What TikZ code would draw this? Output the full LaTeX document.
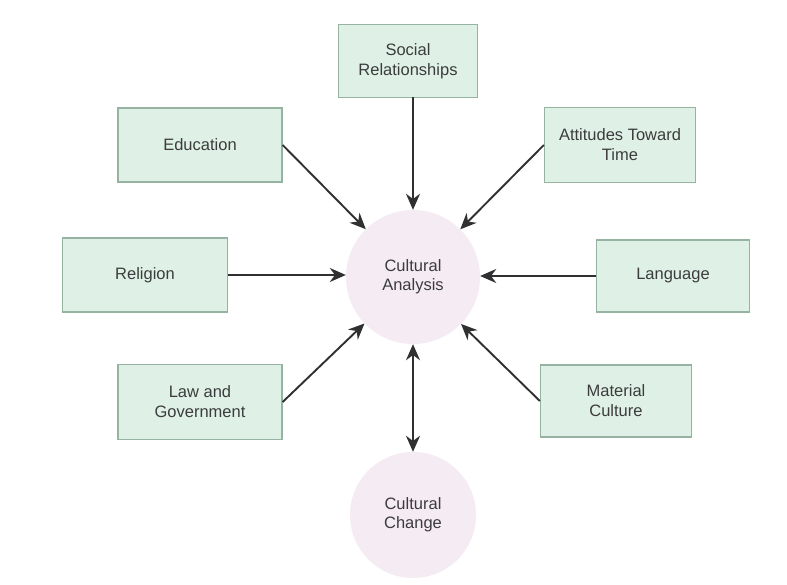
\documentclass[tikz,border=0pt]{standalone}
\usepackage{fontspec}
\setmainfont{Liberation Sans}
\usetikzlibrary{arrows.meta}
\definecolor{boxfill}{RGB}{223,241,230}
\definecolor{boxdraw}{RGB}{150,178,160}
\definecolor{circfill}{RGB}{244,235,243}
\definecolor{txt}{RGB}{60,60,62}
\definecolor{arr}{RGB}{48,48,50}
\begin{document}
\begin{tikzpicture}[x=1pt,y=-1pt,
  factor/.style={draw=boxdraw, fill=boxfill, line width=1.3pt, inner sep=0pt,
    align=center, text=txt, font=\fontsize{16.5}{20}\selectfont},
  hub/.style={circle, fill=circfill, inner sep=0pt, align=center, text=txt,
    font=\fontsize{16.5}{19}\selectfont},
  link/.style={draw=arr, line width=1.9pt, -{Stealth[length=16pt,width=14pt]}}]
\useasboundingbox[fill=white] (0,0) rectangle (787,585);

\node[hub, minimum size=134pt] (ca) at (413,277) {Cultural\\Analysis};
\node[hub, minimum size=126pt] (cc) at (413,515) {Cultural\\Change};

\node[factor, minimum width=139pt, minimum height=73pt] (soc) at (408,61) {Social\\Relationships};
\node[factor, minimum width=164pt, minimum height=74pt] (edu) at (200,145) {Education};
\node[factor, minimum width=151pt, minimum height=75pt] (att) at (620,145) {Attitudes Toward\\Time};
\node[factor, minimum width=165pt, minimum height=74pt] (rel) at (145,275) {Religion};
\node[factor, minimum width=153pt, minimum height=72pt] (lan) at (673,276) {Language};
\node[factor, minimum width=164pt, minimum height=75pt] (law) at (200,402) {Law and\\Government};
\node[factor, minimum width=151pt, minimum height=72pt] (mat) at (616,401) {Material\\Culture};

\coordinate (socfoot) at (413,97);
\draw[link] (socfoot) -- (socfoot |- ca.north);
\draw[link] (edu.east) -- (ca);
\draw[link] (att.west) -- (ca);
\draw[link] (rel.east) -- (rel.east -| ca.west);
\draw[link] (lan.west) -- (lan.west -| ca.east);
\draw[link] (law.east) -- (ca);
\draw[link] (mat.west) -- (ca);
\draw[link, {Stealth[length=16pt,width=14pt]}-{Stealth[length=16pt,width=14pt]}] (ca.south) -- (cc.north);
\end{tikzpicture}
\end{document}
